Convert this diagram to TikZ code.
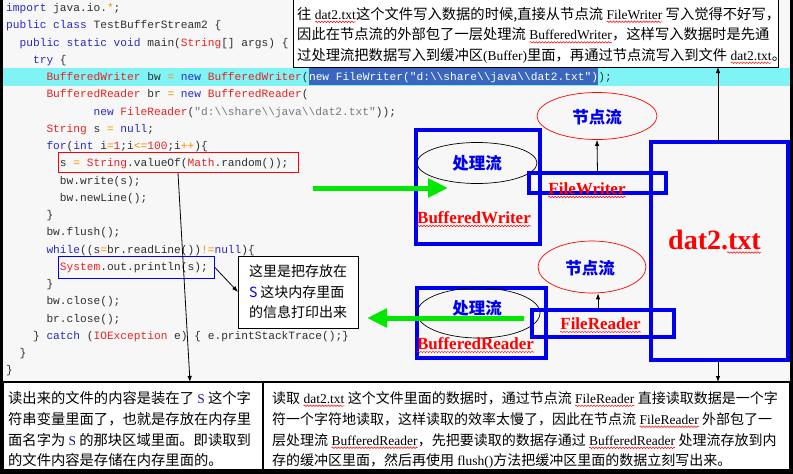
\documentclass[tikz,border=0pt]{standalone}
\usepackage{fontspec}
\setmainfont{Liberation Serif}
\newfontfamily\cjk{Noto Sans CJK SC}
\newfontfamily\codef{Liberation Mono}
\usetikzlibrary{arrows.meta,shapes.geometric,decorations.pathmorphing}
\definecolor{bgc}{HTML}{F7F7F7}
\definecolor{cyanc}{HTML}{80F4F4}
\definecolor{selc}{HTML}{3A66C0}
\definecolor{kwc}{HTML}{2A2AC8}
\definecolor{cnc}{HTML}{E82424}
\definecolor{opc}{HTML}{F59000}
\definecolor{stc}{HTML}{7A7A7A}
\definecolor{plainc}{HTML}{303030}
\definecolor{dblue}{HTML}{0000F0}
\definecolor{gr}{HTML}{00E800}
\definecolor{sblue}{HTML}{1C1C8C}
\newcommand\codefs{\codef\fontsize{11.2}{13}\selectfont\frenchspacing}
\newcommand\ks[1]{\textcolor{kwc}{#1}}
\newcommand\cn[1]{\textcolor{cnc}{#1}}
\newcommand\opr[1]{\textcolor{opc}{#1}}
\newcommand\strg[1]{\textcolor{stc}{#1}}
\newcommand\bsl{\textbackslash}
\tikzset{wv/.style={draw=red,line width=0.5pt,decorate,decoration={snake,amplitude=0.75pt,segment length=3pt}}}
\newcommand\rw[1]{\tikz[baseline=(w.base)]{\node[inner sep=0pt,outer sep=0pt,anchor=base,font=\rmfamily\fontsize{13.5}{16}\selectfont,text=black] (w) at (0,0) {#1}; \path[wv] ([yshift=-2.8pt]w.base west) -- ([yshift=-2.8pt]w.base east);}}
\newcommand\lt[1]{{\rmfamily\fontsize{13.5}{16}\selectfont #1}}
\begin{document}
\begin{tikzpicture}[x=1pt,y=-1pt,
  code/.style={anchor=base west,inner sep=0pt,font=\codefs,text=plainc},
  bluebox/.style={draw=dblue,line width=4pt,inner sep=0pt,outer sep=0pt},
  ell/.style={ellipse,inner sep=0pt,line width=0.7pt},
  ltext/.style={inner sep=0pt,font=\cjk\bfseries\fontsize{16.5}{20}\selectfont,text=dblue},
  lbl/.style={anchor=base,inner sep=0pt,font=\rmfamily\bfseries\fontsize{17}{20}\selectfont,text=red},
  arr/.style={-{Latex[length=6pt,width=4.5pt]},line width=0.8pt},
  garr/.style={draw=gr,line width=5pt,-{Triangle[length=20pt,width=18pt]}},
  txt/.style={anchor=base west,inner sep=0pt,font=\cjk\fontsize{14.3}{16}\selectfont},
  rtxt/.style={anchor=base west,inner sep=0pt,font=\cjk\fontsize{14}{16}\selectfont},
  tbox/.style={draw=black,fill=white,line width=1pt,inner sep=0pt,outer sep=0pt}
]
\useasboundingbox (0,0) rectangle (793,474);
\fill[black] (0,0) rectangle (793,474);
\fill[bgc] (2.5,0) rectangle (790,470);
\fill[cyanc] (2.5,68) rectangle (790,86);

% code
\node[code] (c0) at ({6+0*6.72},{11.5+0*17.25}) {\ks{import} java.io.\opr{*};};
\node[code] (c1) at ({6+0*6.72},{11.5+1*17.25}) {\ks{public} \ks{class} TestBufferStream2 \{};
\node[code] (c2) at ({6+2*6.72},{11.5+2*17.25}) {\ks{public} \ks{static} \ks{void} main(\cn{String}[] args) \{};
\node[code] (c3) at ({6+4*6.72},{11.5+3*17.25}) {\ks{try} \{};
\node[code] (c4) at ({6+6*6.72},{11.5+4*17.25}) {\cn{BufferedWriter} bw \opr{=} \ks{new} \cn{BufferedWriter}(};
\node[code,fill=selc,text=white,text height=12.5pt,text depth=4.5pt] (hl) at (c4.base east) {new FileWriter("d:\bsl\bsl{}share\bsl\bsl{}java\bsl\bsl{}dat2.txt")};
\node[code] (c4b) at (hl.base east) {);};
\node[code] (c5) at ({6+6*6.72},{11.5+5*17.25}) {\cn{BufferedReader} br \opr{=} \ks{new} \cn{BufferedReader}(};
\node[code] (c6) at ({6+13*6.72},{11.5+6*17.25}) {\ks{new} \cn{FileReader}(\strg{"d:\bsl\bsl{}share\bsl\bsl{}java\bsl\bsl{}dat2.txt"}));};
\node[code] (c7) at ({6+6*6.72},{11.5+7*17.25}) {\cn{String} s \opr{=} \ks{null};};
\node[code] (c8) at ({6+6*6.72},{11.5+8*17.25}) {\ks{for}(\ks{int} i\opr{=}\cn{1};i\opr{<=}\cn{100};i\opr{++})\{};
\node[code] (c9) at ({6+8*6.72},{11.5+9*17.25}) {s \opr{=} \cn{String}.valueOf(\cn{Math}.random());};
\node[code] (c10) at ({6+8*6.72},{11.5+10*17.25}) {bw.write(s);};
\node[code] (c11) at ({6+8*6.72},{11.5+11*17.25}) {bw.newLine();};
\node[code] (c12) at ({6+6*6.72},{11.5+12*17.25}) {\}};
\node[code] (c13) at ({6+6*6.72},{11.5+13*17.25}) {bw.flush();};
\node[code] (c14) at ({6+6*6.72},{11.5+14*17.25}) {\ks{while}((s\opr{=}br.readLine())\opr{!=}\ks{null})\{};
\node[code] (c15) at ({6+8*6.72},{11.5+15*17.25}) {\cn{System}.out.println(s);};
\node[code] (c16) at ({6+6*6.72},{11.5+16*17.25}) {\}};
\node[code] (c17) at ({6+6*6.72},{11.5+17*17.25}) {bw.close();};
\node[code] (c18) at ({6+6*6.72},{11.5+18*17.25}) {br.close();};
\node[code] (c19) at ({6+4*6.72},{11.5+19*17.25}) {\} \ks{catch} (\cn{IOException} e) \{ e.printStackTrace();\}};
\node[code] (c20) at ({6+2*6.72},{11.5+20*17.25}) {\}};
\node[code] (c21) at ({6+0*6.72},{11.5+21*17.25}) {\}};

% highlight boxes in code
\node[draw=red,line width=0.9pt,minimum width=240pt,minimum height=20.5pt,inner sep=0pt] (redbox) at (178,162.3) {};
\node[draw=blue,line width=0.9pt,minimum width=156pt,minimum height=22pt,inner sep=0pt] (bluebx) at (136,267) {};

% top text box
\node[tbox,minimum width=485pt,minimum height=68pt] (tbox) at (535.5,33) {};
\node[txt] (t1) at (297,19) {往 \rw{dat2.txt}这个文件写入数据的时候,直接从节点流 \rw{FileWriter} 写入觉得不好写，};
\node[txt] (t2) at (297,39.5) {因此在节点流的外部包了一层处理流 \rw{BufferedWriter}，这样写入数据时是先通};
\node[txt] (t3) at (297,60) {过处理流把数据写入到缓冲区\lt{(Buffer)}里面，再通过节点流写入到文件 \rw{dat2.txt}。};

% writer side
\node[bluebox,minimum width=124pt,minimum height=114pt] (bwbox) at (478,187) {};
\node[ell,draw=black,minimum width=120pt,minimum height=41pt] (pw) at (477,163) {};
\node[ltext] (pwt) at (477,163) {处理流};
\node[lbl] (bwl) at (474,223) {BufferedWriter};
\path[wv] ([yshift=-3pt]bwl.base west) -- ([yshift=-3pt]bwl.base east);
\node[bluebox,minimum width=137pt,minimum height=20pt] (fwbox) at (597.5,183) {};
\node[lbl] (fwl) at (587,194) {FileWriter};
\path[wv] ([yshift=-3pt]fwl.base west) -- ([yshift=-3pt]fwl.base east);
\node[ell,draw=red,minimum width=120pt,minimum height=47pt] (nw) at (597,116) {};
\node[ltext] (nwt) at (597,117) {节点流};
\draw[arr] (fwbox.north) -- (nw.south);

% dat2 box
\node[bluebox,minimum width=137pt,minimum height=218pt] (dat) at (719.5,251) {};
\node[anchor=base,inner sep=0pt,font=\rmfamily\bfseries\fontsize{28}{30}\selectfont,text=red] (datl) at (714.5,249) {dat2.txt};
\path[wv] ([xshift=-34pt,yshift=-3.5pt]datl.base east) -- ([yshift=-3.5pt]datl.base east);
\draw[arr] ([xshift=-1.5pt]dat.north) -- ([xshift=-1.5pt]dat.north |- tbox.south);

% reader side
\node[ell,draw=red,minimum width=108pt,minimum height=52pt] (nr) at (592,267) {};
\node[ltext] (nrt) at (590,268) {节点流};
\node[bluebox,minimum width=129pt,minimum height=70pt] (brbox) at (481.5,323) {};
\node[ell,draw=black,minimum width=123pt,minimum height=50pt] (pr) at (478.5,313) {};
\node[ltext] (prt) at (477,308) {处理流};
\node[lbl] (brl) at (475.5,349) {BufferedReader};
\path[wv] ([yshift=-3pt]brl.base west) -- ([yshift=-3pt]brl.base east);
\node[bluebox,minimum width=142pt,minimum height=27pt] (frbox) at (603,323.5) {};
\node[lbl] (frl) at (600.5,329) {FileReader};
\path[wv] ([yshift=-3pt]frl.base west) -- ([yshift=-3pt]frl.base east);
\draw[arr] ([xshift=-5pt]frbox.north) -- ([xshift=-5pt]frbox.north |- nr.south);

% green arrows
\coordinate (gw0) at (313,188);
\coordinate (gw1) at (448,188);
\draw[garr] (gw0) -- (gw1);
\coordinate (gr0) at (524,318);
\coordinate (gr1) at (367,318);
\draw[garr] (gr0) -- (gr1);

% callout
\node[tbox,minimum width=120pt,minimum height=72pt,align=left,font=\cjk\fontsize{14}{20.5}\selectfont] (call) at (298,292) {这里是把存放在\\\textcolor{blue}{S} 这块内存里面\\的信息打印出来};
\draw[arr] (bluebx.east) -- (call.west);

% bottom boxes
\node[tbox,line width=1.2pt,minimum width=260pt,minimum height=88pt] (lbox) at (133,426) {};
\node[tbox,line width=1.2pt,minimum width=527pt,minimum height=88pt] (rbox) at (526.5,426) {};
\coordinate (lend) at (190,382);
\draw[arr] (redbox.south) -- (lend);
\draw[arr] ([xshift=-1.5pt]dat.south) -- ([xshift=-1.5pt]dat.south |- rbox.north);

\node[txt] (b1) at (8,403) {读出来的文件的内容是装在了 \lt{\textcolor{sblue}{S}} 这个字};
\node[txt] (b2) at (8,424) {符串变量里面了，也就是存放在内存里};
\node[txt] (b3) at (8,445) {面名字为 \lt{\textcolor{sblue}{S}} 的那块区域里面。即读取到};
\node[txt] (b4) at (8,465) {的文件内容是存储在内存里面的。};

\node[rtxt] (r1) at (272,403) {读取 \rw{dat2.txt} 这个文件里面的数据时，通过节点流 \rw{FileReader} 直接读取数据是一个字};
\node[rtxt] (r2) at (272,424) {符一个字符地读取，这样读取的效率太慢了，因此在节点流 \rw{FileReader} 外部包了一};
\node[rtxt] (r3) at (272,445) {层处理流 \rw{BufferedReader}，先把要读取的数据存通过 \rw{BufferedReader} 处理流存放到内};
\node[rtxt] (r4) at (272,465) {存的缓冲区里面，然后再使用 \lt{flush()}方法把缓冲区里面的数据立刻写出来。};
\end{tikzpicture}
\end{document}
